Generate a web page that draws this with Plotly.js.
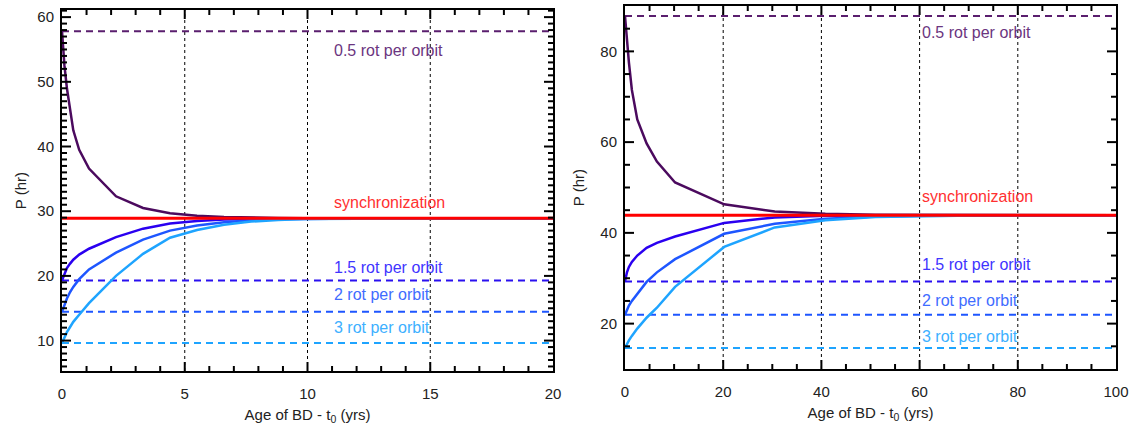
<!DOCTYPE html>
<html>
<head>
<meta charset="utf-8">
<script src="https://cdn.plot.ly/plotly-3.0.1.min.js"></script>
<style>html,body{margin:0;padding:0;background:#fff;}#chart{width:1131px;height:432px;}</style>
</head>
<body>
<div id="chart"></div>
<script>
// ---------- Left panel data (Age in yrs, P in hr) ----------
const ageLeft = [0, 0.1, 0.2, 0.33, 0.46, 0.7, 1.1, 2.2, 3.3, 4.4, 5.5, 6.6, 7.7, 8.8, 9.9, 12, 15, 20];
const pHalfLeft  = [57.8, 52.5, 49.0, 45.5, 42.5, 39.5, 36.6, 32.3, 30.5, 29.7, 29.3, 29.1, 29.0, 28.95, 28.92, 28.9, 28.9, 28.9];
const pOneHalfLeft = [19.3, 20.3, 21.2, 21.9, 22.5, 23.3, 24.2, 26.0, 27.3, 28.1, 28.5, 28.7, 28.8, 28.85, 28.88, 28.9, 28.9, 28.9];
const pTwoLeft   = [14.45, 15.5, 16.5, 17.5, 18.3, 19.5, 21.0, 23.6, 25.6, 27.0, 27.8, 28.3, 28.6, 28.75, 28.83, 28.88, 28.9, 28.9];
const pThreeLeft = [9.63, 10.6, 11.3, 12.1, 12.9, 14.0, 15.8, 20.0, 23.4, 25.9, 27.1, 27.9, 28.4, 28.65, 28.78, 28.85, 28.9, 28.9];
const syncLeft = 28.9;
const resonLeft = [57.8, 19.27, 14.45, 9.63];   // 0.5, 1.5, 2, 3 rot per orbit
const xSpanLeft = [0, 20];
const vLinesLeft = [5, 10, 15];

// ---------- Right panel data ----------
const ageRight = [0, 0.4, 0.8, 1.4, 2.5, 4.4, 6.5, 10.2, 20.2, 30.5, 40.8, 51, 61, 71, 81, 91, 100];
const pHalfRight  = [87.8, 82.0, 77.5, 71.5, 65.0, 59.7, 55.7, 51.1, 46.3, 44.7, 44.2, 44.0, 43.95, 43.9, 43.9, 43.9, 43.9];
const pOneHalfRight = [29.27, 31.3, 32.5, 33.6, 35.0, 36.7, 37.8, 39.2, 42.2, 43.4, 43.75, 43.85, 43.9, 43.9, 43.9, 43.9, 43.9];
const pTwoRight   = [21.95, 23.0, 24.0, 25.0, 26.6, 29.2, 31.3, 34.2, 39.8, 42.0, 43.1, 43.6, 43.8, 43.85, 43.9, 43.9, 43.9];
const pThreeRight = [14.63, 15.5, 16.3, 17.3, 18.9, 21.3, 23.5, 28.1, 36.9, 41.2, 42.8, 43.5, 43.75, 43.85, 43.9, 43.9, 43.9];
const syncRight = 43.9;
const resonRight = [87.8, 29.27, 21.95, 14.63];
const xSpanRight = [0, 100];
const vLinesRight = [20, 40, 60, 80];

// ---------- Labels ----------
const resonLabels = ['0.5 rot per orbit', '1.5 rot per orbit', '2 rot per orbit', '3 rot per orbit'];
const syncLabel = 'synchronization';
const labelYLeft = [54.8, 21.3, 17.2, 12.1];
const labelYRight = [84.1, 33.0, 25.0, 17.1];
const syncLabelY = [31.4, 48.1];
const labelX = [11.0, 60.0];

// ---------- Axis ranges / tick steps ----------
const rangeXLeft = [0, 20], rangeYLeft = [5.3, 61.1];
const rangeXRight = [0, 100], rangeYRight = [10, 90];
const stepsLeft = {xMajor: 5, xMinor: 1, yMajor: 10, yMinor: 1};
const stepsRight = {xMajor: 20, xMinor: 5, yMajor: 20, yMinor: 5};

// ---------- Layout geometry (pixels) ----------
const W = 1131, H = 432;
const boxLeft = {x0: 62, x1: 553, yTop: 10, yBot: 371};
const boxRight = {x0: 625, x1: 1116, yTop: 6, yBot: 369};

// ---------- Styles ----------
const curveColors = ['#4b0a5e', '#2a00f0', '#1e56ff', '#1ea4ff'];
const dashColors  = ['#5a1e6e', '#2a10f0', '#1e56ff', '#1ea4ff'];
const textColors  = ['#6b3580', '#3f35ff', '#3f6cff', '#3db0ff'];
const FONT = 'Liberation Sans, Arial, Helvetica, sans-serif';

const traces = [];

// Inside tick marks on all four sides, drawn as one line trace per panel
function tickValues(range, step) {
  const out = [];
  const start = Math.ceil(range[0] / step - 1e-9) * step;
  for (let v = start; v <= range[1] + 1e-9; v += step) out.push(+v.toFixed(6));
  return out;
}
function tickTrace(xa, ya, rx, ry, st, box) {
  const ux = (rx[1] - rx[0]) / (box.x1 - box.x0);     // data units per pixel (x)
  const uy = (ry[1] - ry[0]) / (box.yBot - box.yTop); // data units per pixel (y)
  const xs = [], ys = [];
  tickValues(rx, st.xMinor).forEach(v => {
    if (v <= rx[0] || v >= rx[1]) return;
    const len = (Math.abs(v / st.xMajor - Math.round(v / st.xMajor)) < 1e-6) ? 9 : 5;
    xs.push(v, v, null, v, v, null);
    ys.push(ry[0], ry[0] + len * uy, null, ry[1], ry[1] - len * uy, null);
  });
  tickValues(ry, st.yMinor).forEach(v => {
    if (v <= ry[0] || v >= ry[1]) return;
    const len = (Math.abs(v / st.yMajor - Math.round(v / st.yMajor)) < 1e-6) ? 9 : 5;
    xs.push(rx[0], rx[0] + len * ux, null, rx[1], rx[1] - len * ux, null);
    ys.push(v, v, null, v, v, null);
  });
  return {x: xs, y: ys, xaxis: xa, yaxis: ya, mode: 'lines', connectgaps: false,
    line: {color: '#000', width: 2}, hoverinfo: 'skip'};
}

function addPanel(xa, ya, ages, curves, reson, sync, span) {
  reson.forEach((v, i) => {
    traces.push({x: span, y: [v, v], xaxis: xa, yaxis: ya, mode: 'lines',
      line: {color: dashColors[i], width: 2, dash: '7px,5px'}, hoverinfo: 'skip'});
  });
  curves.forEach((c, i) => {
    traces.push({x: ages, y: c, xaxis: xa, yaxis: ya, mode: 'lines',
      line: {color: curveColors[i], width: 2.5}, hoverinfo: 'skip'});
  });
  traces.push({x: span, y: [sync, sync], xaxis: xa, yaxis: ya, mode: 'lines',
    line: {color: '#ff0000', width: 3}, hoverinfo: 'skip'});
}
addPanel('x', 'y', ageLeft, [pHalfLeft, pOneHalfLeft, pTwoLeft, pThreeLeft], resonLeft, syncLeft, xSpanLeft);
addPanel('x2', 'y2', ageRight, [pHalfRight, pOneHalfRight, pTwoRight, pThreeRight], resonRight, syncRight, xSpanRight);
traces.push(tickTrace('x', 'y', rangeXLeft, rangeYLeft, stepsLeft, boxLeft));
traces.push(tickTrace('x2', 'y2', rangeXRight, rangeYRight, stepsRight, boxRight));

const shapes = [];
vLinesLeft.forEach(v => shapes.push({type: 'line', xref: 'x', yref: 'y domain', x0: v, x1: v, y0: 0, y1: 1,
  line: {color: '#000', width: 1, dash: 'dot'}, layer: 'below'}));
vLinesRight.forEach(v => shapes.push({type: 'line', xref: 'x2', yref: 'y2 domain', x0: v, x1: v, y0: 0, y1: 1,
  line: {color: '#000', width: 1, dash: 'dot'}, layer: 'below'}));

const annotations = [];
function addLabels(xr, yr, lx, ys, sy) {
  ys.forEach((y, i) => annotations.push({xref: xr, yref: yr, x: lx, y: y, text: resonLabels[i],
    showarrow: false, xanchor: 'left', yanchor: 'middle', font: {family: FONT, size: 16, color: textColors[i]}}));
  annotations.push({xref: xr, yref: yr, x: lx, y: sy, text: syncLabel, showarrow: false,
    xanchor: 'left', yanchor: 'middle', font: {family: FONT, size: 16, color: '#ff3030'}});
}
addLabels('x', 'y', labelX[0], labelYLeft, syncLabelY[0]);
addLabels('x2', 'y2', labelX[1], labelYRight, syncLabelY[1]);

const axBase = {
  showgrid: false, zeroline: false, showline: true, linecolor: '#000', linewidth: 2,
  mirror: true, ticks: '', tickfont: {family: FONT, size: 15, color: '#222'}
};
const xTitle = {text: 'Age of BD - t<sub>0</sub> (yrs)', font: {family: FONT, size: 15, color: '#222'}, standoff: 8};

const layout = {
  width: W, height: H, showlegend: false,
  paper_bgcolor: '#fff', plot_bgcolor: '#fff',
  margin: {l: 0, r: 0, t: 0, b: 0},
  xaxis: Object.assign({}, axBase, {domain: [boxLeft.x0 / W, boxLeft.x1 / W], range: rangeXLeft, tickmode: 'linear', tick0: 0, dtick: stepsLeft.xMajor,
    ticklabelstandoff: 8, title: xTitle, anchor: 'y'}),
  yaxis: Object.assign({}, axBase, {domain: [1 - boxLeft.yBot / H, 1 - boxLeft.yTop / H], range: rangeYLeft, tickmode: 'linear', tick0: 0, dtick: stepsLeft.yMajor,
    ticklabelstandoff: 3, title: {text: 'P (hr)', font: {family: FONT, size: 15, color: '#222'}, standoff: 7}, anchor: 'x'}),
  xaxis2: Object.assign({}, axBase, {domain: [boxRight.x0 / W, boxRight.x1 / W], range: rangeXRight, tickmode: 'linear', tick0: 0, dtick: stepsRight.xMajor,
    ticklabelstandoff: 8, title: xTitle, anchor: 'y2'}),
  yaxis2: Object.assign({}, axBase, {domain: [1 - boxRight.yBot / H, 1 - boxRight.yTop / H], range: rangeYRight, tickmode: 'linear', tick0: 0, dtick: stepsRight.yMajor,
    ticklabelstandoff: 3, title: {text: 'P (hr)', font: {family: FONT, size: 15, color: '#222'}, standoff: 12}, anchor: 'x2'}),
  shapes: shapes,
  annotations: annotations
};

Plotly.newPlot('chart', traces, layout, {displayModeBar: false});
</script>
</body>
</html>
